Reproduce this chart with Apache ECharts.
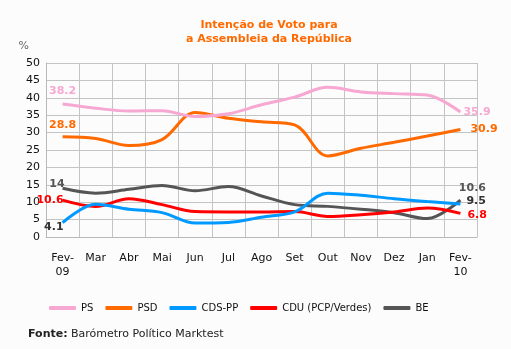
<!DOCTYPE html>
<html><head><meta charset="utf-8">
<script src="https://cdn.jsdelivr.net/npm/echarts@6/dist/echarts.min.js"></script>
<style>html,body{margin:0;padding:0;background:#fcfcfc}#c{width:511px;height:349px}</style>
</head><body><div id="c"></div>
<script>
var categories = ['Fev-\n09','Mar','Abr','Mai','Jun','Jul','Ago','Set','Out','Nov','Dez','Jan','Fev-\n10'];
var yTicks = [0,5,10,15,20,25,30,35,40,45,50];
var PS     = [38.2,37.0,36.2,36.3,34.6,35.4,38.0,40.2,43.0,41.7,41.2,40.8,35.9];
var PSD    = [28.8,28.3,26.3,28.0,35.8,34.1,33.1,32.2,23.3,25.5,27.2,29.0,30.9];
var CDSPP  = [4.1,9.4,8.0,7.0,4.0,4.2,5.7,7.2,12.6,12.0,11.0,10.2,9.5];
var CDU    = [10.6,8.8,11.0,9.3,7.3,7.2,7.2,7.3,5.9,6.4,7.2,8.3,6.8];
var BE     = [14.0,12.6,13.7,14.8,13.3,14.5,11.8,9.3,8.8,8.0,7.0,5.3,10.6];

var F = '"DejaVu Sans", Verdana, sans-serif';
function lab(pos, color, off){ return {show:true, position:pos, color:color, fontFamily:F, fontWeight:'bold', fontSize:11, distance:3, offset:off||[0,0], formatter:function(p){return p.value;}}; }
function build(arr, firstLab, lastLab){
  return arr.map(function(v,i){
    var o = {value:v};
    if(i===0 && firstLab) o.label = firstLab;
    if(i===arr.length-1 && lastLab) o.label = lastLab;
    return o;
  });
}
var names = ['PS','PSD','CDS-PP','CDU (PCP/Verdes)','BE'];
var colors = ['#f6a8d2','#ff6a00','#0099ff','#ff0000','#555555'];
var series = [
  {name:names[0], data:build(PS, lab('top','#f6a8d2',[0,-4]), lab('right','#f6a8d2',[0,0]))},
  {name:names[1], data:build(PSD, lab('top','#ff6a00',[0,-3]), lab('right','#ff6a00',[7,0]))},
  {name:names[2], data:build(CDSPP, lab('left','#333333',[4,4]), lab('right','#333333',[3,-3]))},
  {name:names[3], data:build(CDU, lab('left','#ff0000',[4,0]), lab('right','#ff0000',[4,2]))},
  {name:names[4], data:build(BE, lab('left','#555555',[5,-4]), lab('top','#555555',[12,-3]))}
].map(function(s,i){
  return {name:s.name, type:'line', smooth:0.35, symbol:'circle', symbolSize:0, showSymbol:true, data:s.data,
    lineStyle:{width:3, color:colors[i]}, itemStyle:{color:colors[i]}, z: 10-i,
    label:{show:false}, emphasis:{disabled:true}};
});

var chart = echarts.init(document.getElementById('c'), null, {renderer:'canvas'});
chart.setOption({
  backgroundColor:'#fcfcfc',
  animation:false,
  title:{text:'Intenção de Voto para\na Assembleia da República', left:264, top:13, textAlign:'center',
    textStyle:{color:'#ff6a00', fontFamily:F, fontWeight:'bold', fontSize:11, lineHeight:14}},
  grid:{left:46, right:34, top:63, bottom:112, containLabel:false},
  legend:{left:44, top:298, itemWidth:27, itemHeight:4, itemGap:12, icon:'roundRect',
    textStyle:{fontFamily:F, fontSize:10, color:'#111'}, data:names},
  xAxis:{type:'category', data:categories, boundaryGap:true,
    axisLine:{lineStyle:{color:'#b8b8b8'}}, axisTick:{show:false},
    splitLine:{show:true, lineStyle:{color:'#c4c4c4', width:1}},
    axisLabel:{fontFamily:F, fontSize:11, color:'#111', margin:14, lineHeight:14, interval:0}},
  yAxis:{type:'value', min:0, max:50, interval:5, name:'%', nameLocation:'end', nameGap:11,
    nameTextStyle:{fontFamily:F, fontSize:11, color:'#666', align:'right', padding:[0,17,0,0]},
    axisLine:{show:true, lineStyle:{color:'#b8b8b8'}}, axisTick:{show:false},
    splitLine:{lineStyle:{color:'#c4c4c4', width:1}},
    axisLabel:{fontFamily:F, fontSize:11, color:'#111', margin:6,
      formatter:function(v){return yTicks.indexOf(v)>=0? String(v):'';}}},
  graphic:[{type:'text', left:28, top:328, style:{rich:{b:{fontFamily:F,fontWeight:'bold',fontSize:11,fill:'#222'}, n:{fontFamily:F,fontSize:11,fill:'#222'}}, text:'{b|Fonte:} {n|Barómetro Político Marktest}'}}],
  series:series
});
</script></body></html>
